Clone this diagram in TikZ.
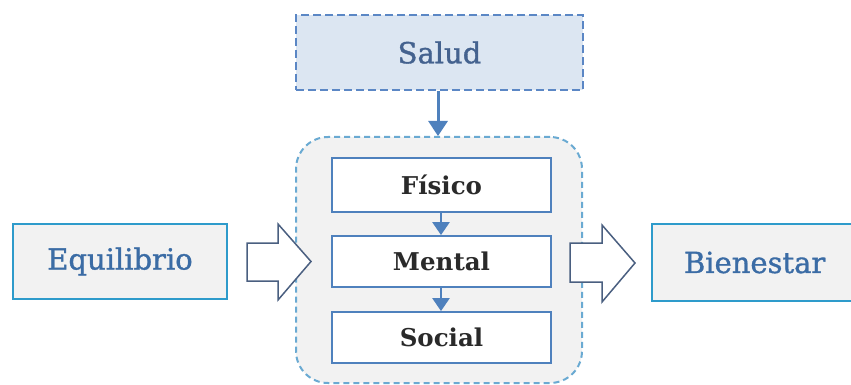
\documentclass[tikz,border=0pt]{standalone}
\usepackage{fontspec}
\setmainfont{DejaVu Serif}
\usetikzlibrary{arrows.meta}
\definecolor{saludfill}{HTML}{DCE6F2}
\definecolor{saludline}{HTML}{5B87C5}
\definecolor{saludtext}{HTML}{44628F}
\definecolor{contfill}{HTML}{F2F2F2}
\definecolor{contline}{HTML}{6AAAD2}
\definecolor{innerline}{HTML}{4F81BD}
\definecolor{outerline}{HTML}{2E9BCB}
\definecolor{outertext}{HTML}{3B6CA5}
\definecolor{blockline}{HTML}{4A5F80}
\definecolor{innertext}{HTML}{2A2A2A}
\tikzset{
  outerbox/.style={draw=outerline, line width=2pt, fill=contfill, inner sep=0pt,
    text=outertext, font=\fontsize{29}{33}\selectfont\addfontfeature{FakeBold=1.2}},
  innerbox/.style={draw=innerline, line width=1.8pt, fill=white, inner sep=0pt,
    minimum width=219pt, text=innertext, font=\fontsize{24.5}{28}\selectfont\bfseries},
  smallarrow/.style={draw=innerline, line width=3pt, -{Triangle[width=19pt,length=15pt]}},
  innerarrow/.style={draw=innerline, line width=2.5pt, -{Triangle[width=17pt,length=13pt]}},
  blockarrow/.style={draw=blockline, line width=1.5pt, fill=white, line join=miter},
}
\begin{document}
\begin{tikzpicture}[x=1pt,y=-1pt]
\useasboundingbox (0,0) rectangle (851,385);
\clip (0,0) rectangle (851,385);
% Salud
\node[draw=saludline, dash pattern=on 8pt off 4pt, line width=2pt, fill=saludfill,
  minimum width=287pt, minimum height=75pt, inner sep=0pt, text=saludtext,
  font=\fontsize{29}{33}\selectfont\addfontfeature{FakeBold=1.2}] (salud) at (439.5,52.5) {Salud};
% container
\node[draw=contline, dash pattern=on 6pt off 4pt, line width=2pt, fill=contfill,
  rounded corners=32pt, minimum width=286pt, minimum height=246pt, inner sep=0pt]
  (cont) at (439,260) {};
% inner boxes
\node[innerbox, minimum height=54pt] (fisico) at (441.5,185) {Físico};
\node[innerbox, minimum height=51pt] (mental) at (441.5,261.5) {Mental};
\node[innerbox, minimum height=51pt] (social) at (441.5,337.5) {Social};
% outer boxes
\node[outerbox, minimum width=214pt, minimum height=75pt] (equil) at (120,261.5) {Equilibrio};
\node[outerbox, minimum width=228pt, minimum height=77pt, text width=218pt, align=left]
  (bien) at (766,262.5) {\hspace{27pt}Bienestar};
% connectors
\draw[smallarrow] (salud.south -| 438,0) -- (cont.north -| 438,0);
\draw[innerarrow] (fisico.south -| 441,0) -- (mental.north -| 441,0);
\draw[innerarrow] (mental.south -| 441,0) -- (social.north -| 441,0);
% block arrows
\draw[blockarrow] (247,243) -- (278,243) -- (278,224) -- (311,261.5) -- (278,300)
  -- (278,281) -- (247,281) -- cycle;
\draw[blockarrow] (570,243) -- (602,243) -- (602,225) -- (635,263) -- (602,302)
  -- (602,282) -- (570,282) -- cycle;
\end{tikzpicture}
\end{document}
